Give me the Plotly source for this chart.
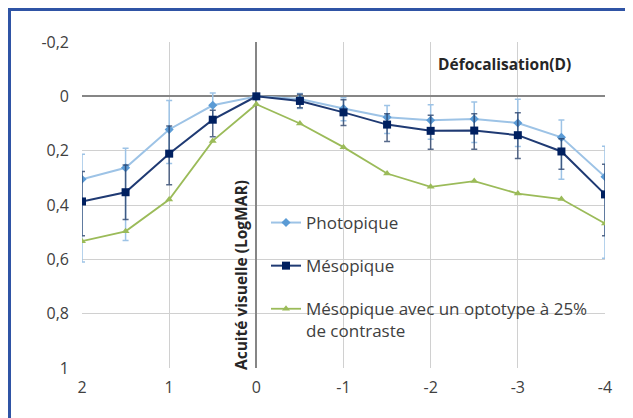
import plotly.graph_objects as go

defocus = [2, 1.5, 1, 0.5, 0, -0.5, -1, -1.5, -2, -2.5, -3, -3.5, -4]

photopique = [0.305, 0.263, 0.122, 0.033, 0.0, 0.010, 0.045, 0.077, 0.088, 0.083, 0.098, 0.151, 0.296]
photo_err_plus = [0.305, 0.268, 0.125, 0.045, 0.0, 0.035, 0.045, 0.060, 0.070, 0.087, 0.087, 0.154, 0.300]
photo_err_minus = [0.092, 0.072, 0.107, 0.045, 0.0, 0.020, 0.040, 0.043, 0.057, 0.062, 0.087, 0.064, 0.112]

mesopique = [0.387, 0.353, 0.211, 0.086, 0.0, 0.017, 0.059, 0.104, 0.127, 0.126, 0.143, 0.203, 0.361]
meso_err_plus = [0.126, 0.100, 0.114, 0.063, 0.0, 0.025, 0.048, 0.062, 0.068, 0.069, 0.086, 0.065, 0.152]
meso_err_minus = [0.110, 0.100, 0.102, 0.035, 0.0, 0.025, 0.046, 0.040, 0.057, 0.062, 0.083, 0.047, 0.111]

meso_contraste = [0.533, 0.497, 0.380, 0.164, 0.029, 0.100, 0.187, 0.284, 0.333, 0.312, 0.358, 0.378, 0.468]

series_names = ["Photopique", "Mésopique", "Mésopique avec un optotype à 25%<br>de contraste"]

x_tick_vals = [2, 1, 0, -1, -2, -3, -4]
x_tick_text = ["2", "1", "0", "-1", "-2", "-3", "-4"]
y_tick_vals = [-0.2, 0, 0.2, 0.4, 0.6, 0.8, 1]
y_tick_text = ["-0,2", "0", "0,2", "0,4", "0,6", "0,8", "1"]

FONT = "Open Sans"
TXT = "#404040"

fig = go.Figure()

fig.add_trace(go.Scatter(
    x=defocus, y=photopique, name=series_names[0], legendgroup="a",
    mode="lines+markers",
    line=dict(color="#9dc3e6", width=2),
    marker=dict(symbol="diamond", size=7, color="#5b9bd5"),
    error_y=dict(type="data", array=photo_err_plus, arrayminus=photo_err_minus,
                 symmetric=False, color="#9dc3e6", thickness=1.5, width=3),
))
fig.add_trace(go.Scatter(
    x=defocus, y=mesopique, name=series_names[1], legendgroup="b",
    mode="lines+markers",
    line=dict(color="#1f3a73", width=2),
    marker=dict(symbol="square", size=8, color="#002060"),
    error_y=dict(type="data", array=meso_err_plus, arrayminus=meso_err_minus,
                 symmetric=False, color="rgba(31,56,100,0.75)", thickness=1.5, width=3),
))
fig.add_trace(go.Scatter(
    x=defocus, y=meso_contraste, name=series_names[2], legendgroup="c",
    mode="lines+markers",
    line=dict(color="#9bbb59", width=1.8),
    marker=dict(symbol="triangle-up", size=7, color="#9bbb59"),
))

# page body has an 8px margin: figure origin sits at (8, 8) in the viewport
OFF = 8
W, H = 625, 410
L, R, T, B = 74, 28, 34, 50
pw, ph = W - L - R, H - T - B


def px_to_paper_x(px):
    return (px - OFF - L) / pw


def px_to_paper_y(py):
    return 1 - (py - OFF - T) / ph


border_col = "#2f54a5"
fig.add_shape(type="line", xref="paper", yref="paper",
              x0=px_to_paper_x(9.5), x1=px_to_paper_x(9.5),
              y0=px_to_paper_y(425), y1=px_to_paper_y(8.5),
              line=dict(color=border_col, width=3))
fig.add_shape(type="line", xref="paper", yref="paper",
              x0=px_to_paper_x(8), x1=px_to_paper_x(640),
              y0=px_to_paper_y(9.5), y1=px_to_paper_y(9.5),
              line=dict(color=border_col, width=3))

fig.add_annotation(text="<b>Défocalisation(D)</b>", xref="paper", yref="paper",
                   x=px_to_paper_x(504), y=px_to_paper_y(64), showarrow=False,
                   xanchor="center", yanchor="middle",
                   font=dict(family=FONT, size=15.5, color="#262626"))
fig.add_annotation(text="<b>Acuité visuelle (LogMAR)</b>", xref="paper", yref="paper",
                   x=px_to_paper_x(241), y=px_to_paper_y(275), showarrow=False,
                   xanchor="center", yanchor="middle", textangle=-90,
                   font=dict(family=FONT, size=15.5, color="#262626"))

fig.update_layout(
    width=W, height=H,
    margin=dict(l=L, r=R, t=T, b=B),
    paper_bgcolor="white", plot_bgcolor="white",
    font=dict(family=FONT, size=16, color=TXT),
    legend=dict(x=px_to_paper_x(266), y=px_to_paper_y(205), xanchor="left", yanchor="top",
                bgcolor="rgba(0,0,0,0)", tracegroupgap=18, valign="top",
                font=dict(family=FONT, size=17, color=TXT)),
    showlegend=True,
)
fig.update_xaxes(range=[2, -4], tickvals=x_tick_vals, ticktext=x_tick_text,
                 showgrid=True, gridcolor="#d0d0d0", gridwidth=1,
                 zeroline=True, zerolinecolor="#868686", zerolinewidth=2,
                 showline=False, ticks="", ticklabelstandoff=8,
                 tickfont=dict(family=FONT, size=16, color=TXT))
fig.update_yaxes(range=[1, -0.2], tickvals=y_tick_vals, ticktext=y_tick_text,
                 showgrid=True, gridcolor="#d0d0d0", gridwidth=1,
                 zeroline=True, zerolinecolor="#868686", zerolinewidth=2,
                 showline=False, ticks="", ticklabelstandoff=12,
                 tickfont=dict(family=FONT, size=16, color=TXT))

fig.write_html("out.html")
